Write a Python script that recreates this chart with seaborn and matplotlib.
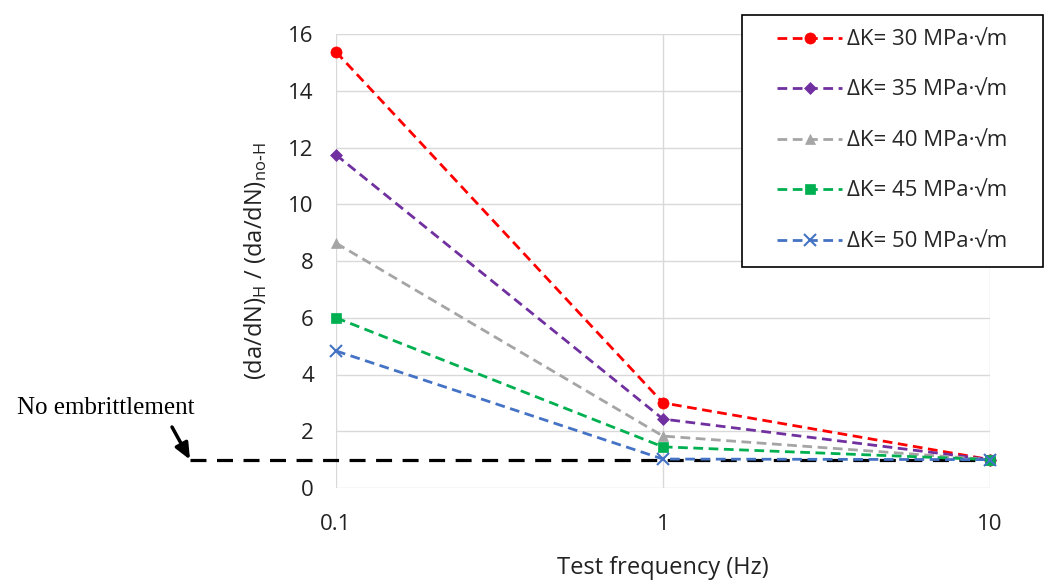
import matplotlib
matplotlib.use("Agg")
import matplotlib.pyplot as plt
from matplotlib.patches import Rectangle
import seaborn as sns
import numpy as np

frequency = [0.1, 1, 10]
series_labels = ["ΔK= 30 MPa·√m", "ΔK= 35 MPa·√m", "ΔK= 40 MPa·√m",
                 "ΔK= 45 MPa·√m", "ΔK= 50 MPa·√m"]
dk30 = [15.37, 3.0, 1.0]
dk35 = [11.74, 2.43, 1.0]
dk40 = [8.63, 1.83, 1.0]
dk45 = [6.0, 1.45, 1.0]
dk50 = [4.83, 1.02, 1.0]
series_values = [dk30, dk35, dk40, dk45, dk50]
no_embrittlement = 1.0
y_ticks = [0, 2, 4, 6, 8, 10, 12, 14, 16]
x_ticks = [0.1, 1, 10]
x_tick_labels = ["0.1", "1", "10"]

colors = ["#FF0000", "#7030A0", "#A5A5A5", "#00B050", "#4472C4"]
markers = ["o", "D", "^", "s", "x"]
msizes = [8, 6.5, 7.5, 7.5, 9]

sns.set_theme(style="white")
plt.rcParams['font.family'] = ['Open Sans', 'DejaVu Sans']

fig = plt.figure(figsize=(10.45, 5.81), dpi=100)
ax = fig.add_axes([336/1045, 1-488/581, (990-336)/1045, (488-34)/581])

handles = []
for vals, lab, c, m, ms in zip(series_values, series_labels, colors, markers, msizes):
    mew = 1.5 if m == "x" else 0.5
    sns.lineplot(x=frequency, y=vals, ax=ax, color=c, marker=m, markersize=ms,
                 markeredgecolor=c, markeredgewidth=mew,
                 linewidth=2, linestyle=(0, (3.5, 2)), label=lab,
                 legend=False, clip_on=False, zorder=3)
    h, = ax.plot([], [], color=c, marker=m, markersize=ms, markeredgecolor=c,
                 markeredgewidth=mew, linewidth=2,
                 linestyle=(0, (3.5, 2)), label=lab)
    handles.append(h)

# reference line (extends left beyond the axes)
x_left = 0.1 * 10 ** (-(336 - 190) / 327)
ax.plot([x_left, 10], [no_embrittlement, no_embrittlement], color="black",
        linewidth=2.3, linestyle=(0, (5, 3.3)), clip_on=False, zorder=2)

ax.set_xscale("log")
ax.set_xlim(0.1, 10)
ax.set_ylim(0, 16)
ax.set_yticks(y_ticks)
ax.set_yticklabels([str(t) for t in y_ticks])
ax.set_xticks(x_ticks)
ax.set_xticklabels(x_tick_labels)
ax.minorticks_off()
ax.tick_params(axis="both", length=0, labelsize=16, colors="#222222")
ax.tick_params(axis="x", pad=19)
ax.tick_params(axis="y", pad=16)
ax.grid(True, color="#D9D9D9", linewidth=1)
for s in ax.spines.values():
    s.set_visible(False)
ax.set_axisbelow(True)

ax.set_xlabel("Test frequency (Hz)", fontsize=17, color="#222222", labelpad=15)
ax.set_ylabel(r"(da/dN)$_{\mathregular{H}}$ / (da/dN)$_{\mathregular{no\text{-}H}}$",
              fontsize=17, color="#222222", labelpad=14)

# annotation
fig.text(17/1045, 1-408/581, "No embrittlement", fontsize=18,
         family="Liberation Serif", va="center", ha="left", color="black")
ax.annotate("", xy=(x_left, no_embrittlement), xycoords="data",
            xytext=(172/1045, 1-427/581), textcoords="figure fraction",
            arrowprops=dict(arrowstyle="-|>,head_width=0.35,head_length=0.8",
                            color="black", lw=2.5, shrinkA=0, shrinkB=0),
            annotation_clip=False)

# legend frame (fixed box) and legend entries
fig.patches.append(Rectangle((742/1045, 1-267/581), 301/1045, 252/581,
                             transform=fig.transFigure, fill=True,
                             facecolor="white", edgecolor="black",
                             linewidth=1.2, zorder=5))
leg = fig.legend(handles=handles, loc="center",
                 bbox_to_anchor=(742/1045, 1-267/581, 301/1045, 252/581),
                 fontsize=16, frameon=False, handlelength=2.9,
                 labelspacing=1.33, borderpad=0.3, handletextpad=0.25,
                 borderaxespad=0)
leg.set_zorder(6)

fig.savefig("out.png", dpi=100)
